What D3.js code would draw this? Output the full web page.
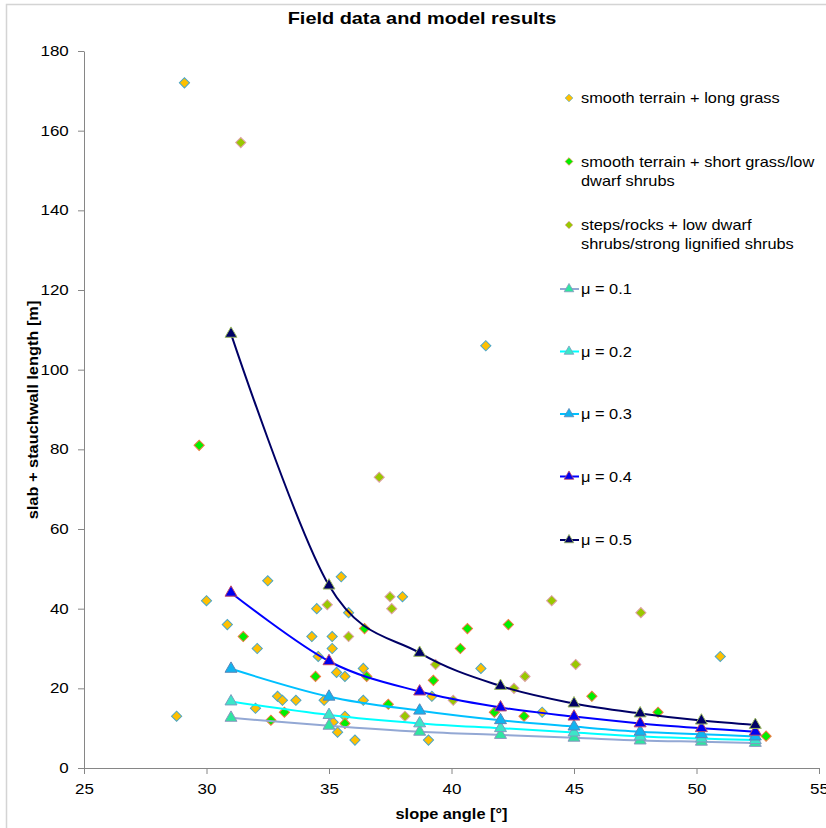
<!DOCTYPE html>
<html>
<head>
<meta charset="utf-8">
<script src="https://cdn.jsdelivr.net/npm/d3@7/dist/d3.min.js"></script>
<style>
  html, body { margin: 0; padding: 0; background: #fff; }
  svg { display: block; font-family: "Liberation Sans", Arial, sans-serif; }
</style>
</head>
<body>
<svg id="chart" width="826" height="828"></svg>
<script>
// ---------- data ----------
const chartTitle = "Field data and model results";
const xLabel = "slope angle [°]";
const yLabel = "slab + stauchwall length [m]";
const xTicks = [25, 30, 35, 40, 45, 50, 55];
const yTicks = [0, 20, 40, 60, 80, 100, 120, 140, 160, 180];

// field data: [slope angle, length]
const longGrass = [[29.1,172],[41.4,106],[30.0,42],[32.5,47],[35.5,48],[34.5,40],[38.0,43],[30.85,36],
  [32.07,30],[35.8,39],[34.3,33],[35.13,33],[35.13,30],[34.56,28],[35.31,24],[35.65,23],[36.4,25],
  [41.2,25],[32.9,18],[33.1,17],[33.65,17],[32.0,15],[28.78,13],[34.8,17],[36.4,17],[35.17,11.5],
  [35.65,13],[35.35,9],[36.06,7],[39.2,18],[43.7,14],[39.06,7],[50.97,28]];
const shortGrass = [[29.7,81],[31.5,33],[36.45,35],[34.45,23],[36.54,23],[33.18,14],[32.63,12],
  [37.42,16],[35.65,11.2],[40.65,35],[42.32,36],[40.36,30],[39.26,22],[45.73,18],[41.75,14],
  [42.96,13],[48.43,14],[52.84,8]];
const stepsRocks = [[31.4,157],[37.05,73],[34.93,41],[37.49,43],[37.56,40],[35.8,33],[44.09,42],
  [39.35,26],[45.07,26],[43.0,23],[42.55,20],[40.07,17],[38.1,13],[47.73,39]];

// model results
const modelAngles = [31, 35, 38.7, 42, 45, 47.7, 50.2, 52.4];
const mu01 = [12.6, 10.6, 9.1, 8.3, 7.6, 6.9, 6.6, 6.3];
const mu02 = [16.7, 13.3, 11.2, 10.0, 8.9, 7.9, 7.4, 7.0];
const mu03 = [24.9, 17.9, 14.4, 12.0, 10.4, 9.1, 8.5, 7.9];
const mu04 = [44, 26.8, 19.2, 15.2, 12.9, 11.2, 10.0, 9.1];
const mu05 = [109, 45.8, 28.9, 20.6, 16.2, 13.7, 11.9, 10.8];

const scatterNames = ["smooth terrain + long grass",
  "smooth terrain + short grass/low|dwarf shrubs",
  "steps/rocks + low dwarf|shrubs/strong lignified shrubs"];
const muNames = ["μ = 0.1", "μ = 0.2", "μ = 0.3", "μ = 0.4", "μ = 0.5"];

// ---------- styles ----------
const scatterSeries = [
  {name: scatterNames[0], data: longGrass, fill: "#FFC000", stroke: "#4BA6C8"},
  {name: scatterNames[1], data: shortGrass, fill: "#00F000", stroke: "#F07840"},
  {name: scatterNames[2], data: stepsRocks, fill: "#99C800", stroke: "#E0A0A8"}
];
const lineSeries = [
  {name: muNames[0], vals: mu01, line: "#93A8D4", fill: "#2EE6A0", stroke: "#8C94C0"},
  {name: muNames[1], vals: mu02, line: "#00FFFF", fill: "#3CE6C8", stroke: "#7C9CC0"},
  {name: muNames[2], vals: mu03, line: "#00C0FF", fill: "#10B4F0", stroke: "#5A86B8"},
  {name: muNames[3], vals: mu04, line: "#0000FF", fill: "#0000F0", stroke: "#C04868"},
  {name: muNames[4], vals: mu05, line: "#000066", fill: "#000066", stroke: "#9BB860"}
];

const SX = 1.17; // text advance widening seen in the reference rendering
const svg = d3.select("#chart");

// chart frame
svg.append("rect").attr("x", 6.5).attr("y", 4.5).attr("width", 1000).attr("height", 1000)
  .attr("fill", "none").attr("stroke", "#D4D4D4").attr("stroke-width", 1.5);

const x = d3.scaleLinear().domain([25, 55]).range([84, 819]);
const y = d3.scaleLinear().domain([0, 180]).range([768, 51]);

function addText(px, py, str, opts) {
  const g = svg.append("g").attr("transform", `translate(${px},${py}) scale(${SX},1)`);
  const t = g.append("text").text(str)
    .attr("font-size", opts.size || 14)
    .attr("font-weight", opts.weight || "normal")
    .attr("text-anchor", opts.anchor || "start")
    .attr("fill", "#000");
  return t;
}

// title
addText(422, 24, chartTitle, {size: 17, weight: "bold", anchor: "middle"});

// axes
const axisColor = "#868686";
const xAxis = svg.append("g").attr("transform", "translate(0,768)")
  .call(d3.axisBottom(x).tickValues(xTicks).tickSize(6).tickSizeOuter(0).tickPadding(10)
    .tickFormat(d3.format("d")));
const yAxis = svg.append("g").attr("transform", "translate(84,0)")
  .call(d3.axisLeft(y).tickValues(yTicks).tickSize(6).tickSizeOuter(0).tickPadding(7)
    .tickFormat(d3.format("d")));
[xAxis, yAxis].forEach(a => {
  a.select(".domain").attr("stroke", axisColor).attr("stroke-width", 1);
  a.selectAll(".tick line").attr("stroke", axisColor);
  a.selectAll(".tick text").attr("fill", "#000").attr("font-size", 14.5)
    .attr("font-family", "'Liberation Sans', Arial, sans-serif")
    .attr("transform", `scale(${SX},1)`);
});

// axis titles
addText(451.5, 819, xLabel, {size: 14, weight: "bold", anchor: "middle"});
svg.append("g").attr("transform", "translate(38,410) rotate(-90) scale(" + SX + ",1)")
  .append("text").text(yLabel)
  .attr("font-size", 14).attr("font-weight", "bold").attr("text-anchor", "middle");

// scatter points (diamonds)
const diamond = d3.symbol().type(d3.symbolSquare).size(52);
scatterSeries.forEach(s => {
  svg.append("g").selectAll("path").data(s.data).join("path")
    .attr("d", diamond)
    .attr("transform", d => `translate(${x(d[0])},${y(d[1])}) rotate(45)`)
    .attr("fill", s.fill).attr("stroke", s.stroke).attr("stroke-width", 1);
});

// model lines
const lineGen = d3.line().x(d => x(d[0])).y(d => y(d[1])).curve(d3.curveCardinal.tension(0));
lineSeries.forEach(s => {
  const pts = modelAngles.map((a, i) => [a, s.vals[i]]);
  svg.append("path").datum(pts).attr("d", lineGen)
    .attr("fill", "none").attr("stroke", s.line).attr("stroke-width", 2);
});
const tri = d3.symbol().type(d3.symbolTriangle).size(62);
lineSeries.forEach(s => {
  const pts = modelAngles.map((a, i) => [a, s.vals[i]]);
  svg.append("g").selectAll("path").data(pts).join("path")
    .attr("d", tri)
    .attr("transform", d => `translate(${x(d[0])},${y(d[1])})`)
    .attr("fill", s.fill).attr("stroke", s.stroke).attr("stroke-width", 1);
});

// legend
const legX = 569, legTextX = 581;
const scatterLegY = [98, 161.5, 225];
const lineLegY = [289, 351.5, 414, 476.5, 540];
const legDiamond = d3.symbol().type(d3.symbolSquare).size(30);
scatterSeries.forEach((s, i) => {
  const cy = scatterLegY[i];
  svg.append("path").attr("d", legDiamond)
    .attr("transform", `translate(${legX},${cy}) rotate(45)`)
    .attr("fill", s.fill).attr("stroke", s.stroke).attr("stroke-width", 0.6);
  s.name.split("|").forEach((ln, k) => {
    addText(legTextX, cy + 5 + k * 19, ln, {size: 14});
  });
});
const legTri = d3.symbol().type(d3.symbolTriangle).size(40);
lineSeries.forEach((s, i) => {
  const cy = lineLegY[i];
  svg.append("line").attr("x1", 560).attr("x2", 579).attr("y1", cy).attr("y2", cy)
    .attr("stroke", s.line).attr("stroke-width", 2);
  svg.append("path").attr("d", legTri)
    .attr("transform", `translate(${legX},${cy})`)
    .attr("fill", s.fill).attr("stroke", s.stroke).attr("stroke-width", 0.8);
  addText(legTextX, cy + 5, s.name, {size: 14});
});
</script>
</body>
</html>
